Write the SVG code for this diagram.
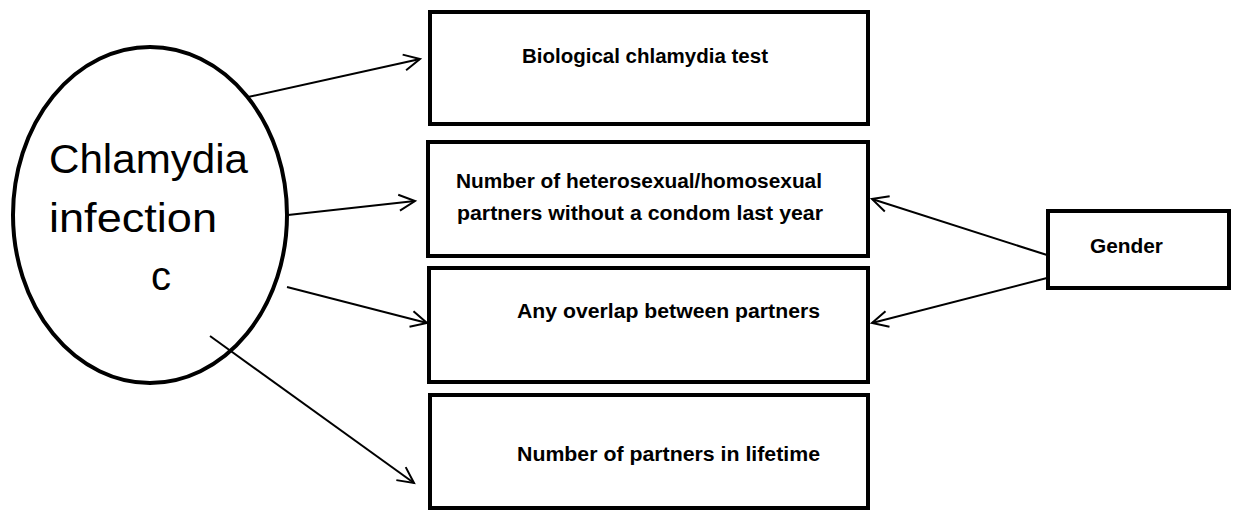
<svg xmlns="http://www.w3.org/2000/svg" width="1237" height="511" viewBox="0 0 1237 511">
<style>
.box{fill:#fff;stroke:#000;stroke-width:4}
.lbl{font-family:"Liberation Sans",Arial,sans-serif;font-weight:bold;font-size:20px;fill:#000}
.big{font-family:"Liberation Sans",Arial,sans-serif;font-size:40px;fill:#000}
.conn{stroke:#000;stroke-width:2;fill:none;marker-end:url(#arr)}
</style>
<defs>
<marker id="arr" markerUnits="userSpaceOnUse" viewBox="-20 -12 24 24" refX="0" refY="0" markerWidth="24" markerHeight="24" orient="auto" overflow="visible">
<path d="M-16,-8 L0,0 L-16,8" fill="none" stroke="#000" stroke-width="2"/>
</marker>
</defs>
<rect width="1237" height="511" fill="#fff"/>
<g id="infection">
<ellipse cx="150" cy="215" rx="137" ry="168" fill="#fff" stroke="#000" stroke-width="4"/>
<text class="big" x="49" y="173" textLength="199" lengthAdjust="spacingAndGlyphs">Chlamydia</text>
<text class="big" x="49" y="232" textLength="168" lengthAdjust="spacingAndGlyphs">infection</text>
<text class="big" x="151" y="290">c</text>
</g>
<g id="test">
<rect class="box" x="430" y="12" width="438" height="112"/>
<text class="lbl" x="522" y="63" textLength="246" lengthAdjust="spacingAndGlyphs">Biological chlamydia test</text>
</g>
<g id="partners-condom">
<rect class="box" x="428" y="142" width="440" height="114"/>
<text class="lbl" x="456" y="188" textLength="366" lengthAdjust="spacingAndGlyphs">Number of heterosexual/homosexual</text>
<text class="lbl" x="457" y="220" textLength="366" lengthAdjust="spacingAndGlyphs">partners without a condom last year</text>
</g>
<g id="overlap">
<rect class="box" x="429" y="268" width="439" height="114"/>
<text class="lbl" x="517" y="318" textLength="303" lengthAdjust="spacingAndGlyphs">Any overlap between partners</text>
</g>
<g id="lifetime">
<rect class="box" x="430" y="395" width="438" height="113"/>
<text class="lbl" x="517" y="461" textLength="303" lengthAdjust="spacingAndGlyphs">Number of partners in lifetime</text>
</g>
<g id="gender">
<rect class="box" x="1048" y="211" width="181" height="77"/>
<text class="lbl" x="1090" y="253" textLength="73" lengthAdjust="spacingAndGlyphs">Gender</text>
</g>
<g id="connectors">
<line class="conn" x1="248" y1="97" x2="420" y2="59"/>
<line class="conn" x1="288" y1="215" x2="415" y2="201"/>
<line class="conn" x1="287" y1="287" x2="427" y2="323"/>
<line class="conn" x1="210" y1="336" x2="414" y2="483"/>
<line class="conn" x1="1047" y1="255" x2="872" y2="199"/>
<line class="conn" x1="1047" y1="278" x2="872" y2="323"/>
</g>
</svg>
